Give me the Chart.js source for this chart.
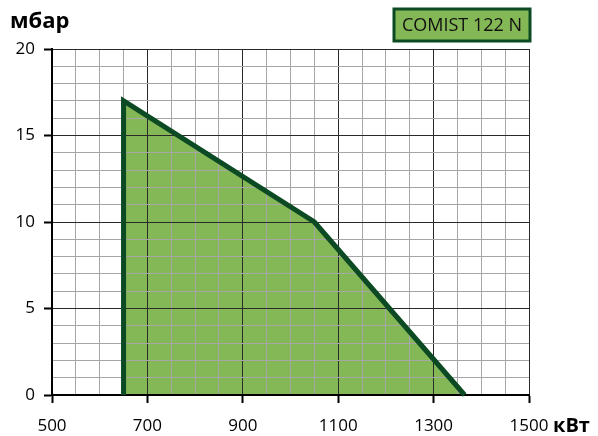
<!DOCTYPE html>
<html><head><meta charset="utf-8">
<script src="https://cdn.jsdelivr.net/npm/chart.js@4"></script>
<style>html,body{margin:0;padding:0;background:#fff}#wrap{width:598px;height:436px;position:relative}</style>
</head><body><div id="wrap"><canvas id="c" width="598" height="436"></canvas></div>
<script>
const powerKW = [650, 650, 1050, 1365];
const pressureMbar = [0, 17, 10, 0];
const xTickLabels = [500, 700, 900, 1100, 1300, 1500];
const yTickLabels = [0, 5, 10, 15, 20];
const seriesName = 'COMIST 122 N';
const xUnit = 'кВт';
const yUnit = 'мбар';

const FONT = '"Open Sans", sans-serif';
const FILL = '#84b756';
const LINE = '#0c4a24';
const MAJOR = '#2a2a2a';
const MINOR = '#a6a6a6';

const overlay = {
  id: 'overlay',
  afterDraw(chart) {
    const ctx = chart.ctx;
    const pts = chart.getDatasetMeta(0).data;
    ctx.save();
    ctx.strokeStyle = LINE;
    ctx.lineWidth = 5;
    ctx.lineJoin = 'miter';
    ctx.beginPath();
    pts.forEach((p, i) => { if (i === 0) ctx.moveTo(p.x, p.y); else ctx.lineTo(p.x, p.y); });
    ctx.stroke();

    ctx.fillStyle = '#000';
    ctx.font = 'bold 22px ' + FONT;
    ctx.textAlign = 'left';
    ctx.textBaseline = 'alphabetic';
    ctx.fillText(yUnit, 10, 28);
    ctx.font = 'bold 20px ' + FONT;
    ctx.textBaseline = 'middle';
    ctx.fillText(xUnit, 553, 426);

    // legend box
    ctx.fillStyle = FILL;
    ctx.fillRect(394, 9, 136, 32);
    ctx.strokeStyle = LINE;
    ctx.lineWidth = 3;
    ctx.strokeRect(394, 9, 136, 32);
    ctx.fillStyle = '#111';
    ctx.font = '18px ' + FONT;
    ctx.textAlign = 'center';
    ctx.textBaseline = 'middle';
    ctx.fillText(seriesName, 462, 26);
    ctx.restore();
  }
};

new Chart(document.getElementById('c'), {
  type: 'scatter',
  data: {
    datasets: [{
      label: seriesName,
      data: powerKW.map((x, i) => ({ x, y: pressureMbar[i] })),
      showLine: true,
      fill: 'origin',
      backgroundColor: FILL,
      borderWidth: 0,
      borderColor: 'rgba(0,0,0,0)',
      pointRadius: 0,
      tension: 0
    }]
  },
  options: {
    responsive: false,
    devicePixelRatio: 1,
    animation: false,
    layout: { padding: { top: 49, right: 69, left: 0, bottom: 0 } },
    plugins: { legend: { display: false }, tooltip: { enabled: false }, title: { display: false } },
    scales: {
      x: {
        type: 'linear', min: 500, max: 1500,
        afterFit: s => { s.height = 41; },
        afterBuildTicks: s => {
          const t = [];
          for (let v = 500; v <= 1500; v += 50) t.push({ value: v });
          s.ticks = t;
        },
        border: { color: '#000', width: 2, z: 2 },
        grid: {
          z: 1,
          color: c => ((c.tick.value - 500) % 200 === 0 ? MAJOR : MINOR),
          tickColor: c => ((c.tick.value - 500) % 200 === 0 ? '#000' : 'rgba(0,0,0,0)'),
          lineWidth: 1, tickLength: 8, tickWidth: 2
        },
        ticks: {
          z: 2, autoSkip: false, maxRotation: 0, padding: 13, color: '#000',
          font: { family: FONT, size: 17 },
          callback: v => (xTickLabels.includes(v) ? String(v) : '')
        }
      },
      y: {
        type: 'linear', min: 0, max: 20,
        afterFit: s => { s.width = 52; },
        afterBuildTicks: s => {
          const t = [];
          for (let v = 0; v <= 20; v += 1) t.push({ value: v });
          s.ticks = t;
        },
        border: { color: '#000', width: 2, z: 2 },
        grid: {
          z: 1,
          color: c => (c.tick.value % 5 === 0 ? MAJOR : MINOR),
          tickColor: c => (c.tick.value % 5 === 0 ? '#000' : 'rgba(0,0,0,0)'),
          lineWidth: 1, tickLength: 8, tickWidth: 2
        },
        ticks: {
          z: 2, autoSkip: false, padding: 9, color: '#000',
          font: { family: FONT, size: 17 },
          callback: v => (yTickLabels.includes(v) ? String(v) : '')
        }
      }
    }
  },
  plugins: [overlay]
});
</script></body></html>
